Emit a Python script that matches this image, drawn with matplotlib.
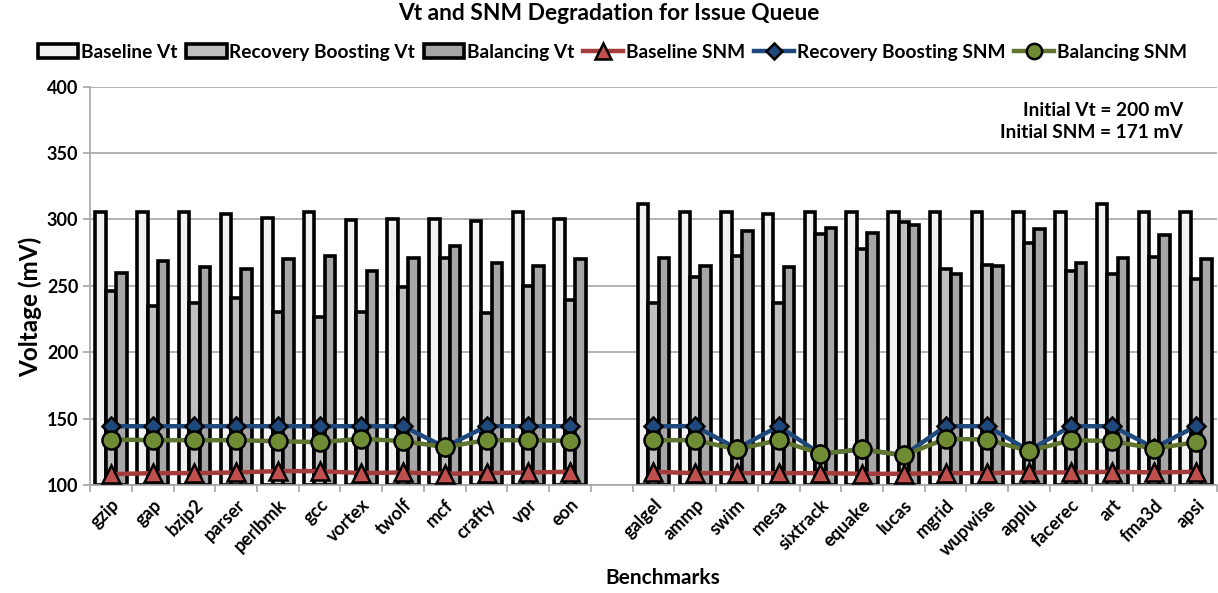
import numpy as np
import matplotlib.pyplot as plt
import matplotlib.transforms as mtransforms
from matplotlib.patches import Patch
from matplotlib.lines import Line2D

plt.rcParams["font.family"] = ["Lato", "DejaVu Sans"]
plt.rcParams["font.weight"] = "bold"

# SPEC integer and floating point benchmarks, shown as two groups
int_benchmarks = ["gzip", "gap", "bzip2", "parser", "perlbmk", "gcc",
                  "vortex", "twolf", "mcf", "crafty", "vpr", "eon"]
fp_benchmarks = ["galgel", "ammp", "swim", "mesa", "sixtrack", "equake", "lucas",
                 "mgrid", "wupwise", "applu", "facerec", "art", "fma3d", "apsi"]

# threshold voltage after degradation (mV)
baseline_vt = [305.8, 305.8, 305.8, 303.8, 301.3, 305.8, 299.7, 300.0, 300.0, 298.5, 305.8, 300.0,
               311.5, 305.8, 305.8, 303.8, 305.8, 305.8, 305.8, 305.8, 305.8, 305.8, 305.8, 311.5, 305.8, 305.8]
recovery_vt = [246.1, 234.8, 236.8, 240.6, 230.3, 226.3, 230.3, 249.4, 271.2, 229.8, 249.9, 239.3,
               236.8, 256.9, 272.4, 236.8, 288.7, 277.4, 298.0, 262.4, 265.7, 282.0, 261.2, 258.6, 271.9, 255.0]
balancing_vt = [259.9, 268.4, 264.2, 262.4, 269.9, 272.2, 261.2, 271.2, 280.0, 266.9, 264.9, 270.4,
                271.2, 265.2, 291.0, 264.2, 293.7, 290.0, 295.5, 259.1, 265.2, 293.0, 266.9, 271.2, 288.0, 270.0]

# static noise margin after degradation (mV)
baseline_snm = [108.2, 109.0, 109.0, 109.5, 110.5, 110.5, 109.0, 109.5, 108.5, 109.0, 109.5, 110.0,
                110.0, 109.0, 109.0, 109.0, 109.0, 108.5, 108.5, 109.0, 109.0, 109.5, 109.5, 110.0, 109.5, 110.0]
recovery_snm = [144.3, 144.3, 144.3, 144.3, 144.3, 144.3, 144.3, 144.3, 128.6, 144.3, 144.3, 144.3,
                144.3, 144.3, 127.5, 144.3, 123.6, 126.9, 122.4, 144.3, 144.3, 126.0, 144.3, 144.3, 128.0, 144.3]
balancing_snm = [134.3, 133.8, 133.8, 133.8, 133.0, 132.3, 134.8, 133.1, 128.6, 133.8, 133.8, 133.3,
                 133.8, 133.8, 126.9, 133.8, 123.6, 126.9, 122.4, 134.8, 134.3, 125.6, 133.8, 133.1, 127.4, 132.3]

Y_MIN, Y_MAX = 100, 400

BASELINE_FILL = "#f2f2f2"
RECOVERY_FILL = "#bfbfbf"
BALANCING_FILL = "#a6a6a6"
RED_LINE, RED_MARK = "#a33c3a", "#c0504d"
BLUE_LINE, BLUE_MARK = "#1f497d", "#1f497d"
GREEN_LINE, GREEN_MARK = "#5f7530", "#6f8c35"


def with_gap(values):
    # one empty slot separates the integer and floating point groups
    n = len(int_benchmarks)
    return np.array(list(values[:n]) + [np.nan] + list(values[n:]), dtype=float)


labels = int_benchmarks + [""] + fp_benchmarks
x = np.arange(len(labels))

fig = plt.figure(figsize=(12.18, 5.93), dpi=100)
ax = fig.add_axes([0.074, 0.182, 0.925, 0.672])

bar_w = 0.25
bar_style = dict(edgecolor="black", linewidth=2.6, zorder=2)
for offset, series, fill in [(-bar_w, baseline_vt, BASELINE_FILL),
                             (0.0, recovery_vt, RECOVERY_FILL),
                             (bar_w, balancing_vt, BALANCING_FILL)]:
    vals = with_gap(series)
    ax.bar(x + offset, vals - Y_MIN, bottom=Y_MIN, width=bar_w, color=fill, **bar_style)

ax.plot(x, with_gap(baseline_snm), color=RED_LINE, lw=3.2, marker="^", ms=13,
        mfc=RED_MARK, mec="black", mew=1.8, zorder=4)
ax.plot(x, with_gap(recovery_snm), color=BLUE_LINE, lw=3.2, marker="D", ms=9,
        mfc=BLUE_MARK, mec="black", mew=1.8, zorder=4)
ax.plot(x, with_gap(balancing_snm), color=GREEN_LINE, lw=3.2, marker="o", ms=13,
        mfc=GREEN_MARK, mec="black", mew=1.8, zorder=5)

ax.set_xlim(-0.5, len(labels) - 0.5)
ax.set_ylim(Y_MIN, Y_MAX)
ax.set_yticks(np.arange(Y_MIN, Y_MAX + 1, 50))
ax.yaxis.grid(True, color="#a6a6a6", lw=1.2, zorder=0)
ax.set_axisbelow(True)

ax.set_xticks(x)
ax.set_xticklabels(labels, rotation=45, ha="right", rotation_mode="anchor",
                   fontsize=13, fontweight="bold")
shift = mtransforms.ScaledTranslation(-5 / 100, 0, fig.dpi_scale_trans)
for lab in ax.get_xticklabels():
    lab.set_transform(lab.get_transform() + shift)
ax.set_xticks(np.arange(-0.5, len(labels)), minor=True)
ax.tick_params(axis="x", which="major", length=0, pad=8)
ax.tick_params(axis="x", which="minor", length=5, color="#a6a6a6", width=1.2, direction="out")
ax.tick_params(axis="y", length=5, color="#a6a6a6", width=1.2, labelsize=13)
for lab in ax.get_yticklabels():
    lab.set_fontweight("bold")

for side in ["top", "right"]:
    ax.spines[side].set_visible(False)
for side in ["left", "bottom"]:
    ax.spines[side].set_color("#a6a6a6")
    ax.spines[side].set_linewidth(1.2)

ax.text(0.97, 0.939, "Initial Vt = 200 mV", transform=ax.transAxes,
        ha="right", va="center", fontsize=13.8, fontweight="bold")
ax.text(0.97, 0.884, "Initial SNM = 171 mV", transform=ax.transAxes,
        ha="right", va="center", fontsize=13.8, fontweight="bold")

fig.text(0.5, 0.977, "Vt and SNM Degradation for Issue Queue", ha="center", va="center",
         fontsize=16.4, fontweight="bold")
fig.text(0.025, 0.483, "Voltage (mV)", rotation=90, ha="center", va="center",
         fontsize=17.5, fontweight="bold")
fig.text(0.544, 0.025, "Benchmarks", ha="center", va="center",
         fontsize=15, fontweight="bold")

handles = [
    Patch(facecolor=BASELINE_FILL, edgecolor="black", linewidth=2.6, label="Baseline Vt"),
    Patch(facecolor=RECOVERY_FILL, edgecolor="black", linewidth=2.6, label="Recovery Boosting Vt"),
    Patch(facecolor=BALANCING_FILL, edgecolor="black", linewidth=2.6, label="Balancing Vt"),
    Line2D([], [], color=RED_LINE, lw=3.2, marker="^", ms=11, mfc=RED_MARK,
           mec="black", mew=1.8, label="Baseline SNM"),
    Line2D([], [], color=BLUE_LINE, lw=3.2, marker="D", ms=8, mfc=BLUE_MARK,
           mec="black", mew=1.8, label="Recovery Boosting SNM"),
    Line2D([], [], color=GREEN_LINE, lw=3.2, marker="o", ms=11, mfc=GREEN_MARK,
           mec="black", mew=1.8, label="Balancing SNM"),
]
fig.legend(handles=handles, loc="center", bbox_to_anchor=(0.503, 0.912), ncol=6,
           frameon=False, prop={"weight": "bold", "size": 13.8},
           handlelength=2.1, handleheight=0.8, handletextpad=0.15, columnspacing=0.45,
           borderaxespad=0)

fig.savefig("out.png", dpi=100)
